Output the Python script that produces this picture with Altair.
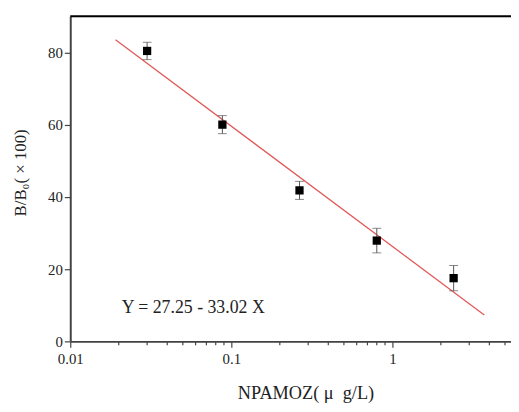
import altair as alt
import pandas as pd

# data
conc = [0.03, 0.088, 0.265, 0.80, 2.40]
bb0 = [80.4, 60.0, 41.8, 27.9, 17.5]
err = [2.4, 2.5, 2.5, 3.4, 3.5]

fit_x = [0.0191, 3.72]
fit_y = [83.5, 7.3]

minor_ticks = [0.02, 0.03, 0.04, 0.05, 0.06, 0.07, 0.08, 0.09,
               0.2, 0.3, 0.4, 0.5, 0.6, 0.7, 0.8, 0.9,
               2, 3, 4, 5]
major_ticks = [0.01, 0.1, 1]
y_ticks = [0, 20, 40, 60, 80]
equation = ["Y = 27.25 - 33.02 X"]

W, H = 446, 329
FONT = "Liberation Serif"
TXT = "#222222"
AX = "#444444"

pts = pd.DataFrame({"x": conc, "y": bb0,
                    "lo": [v - e for v, e in zip(bb0, err)],
                    "hi": [v + e for v, e in zip(bb0, err)]})
fit = pd.DataFrame({"x": fit_x, "y": fit_y})
minors = pd.DataFrame({"x": minor_ticks})
single = pd.DataFrame({"t": equation})

xscale = alt.Scale(type="log", domain=[0.01, 5.45], nice=False)
yscale = alt.Scale(domain=[0, 90], nice=False)

xaxis = alt.Axis(values=major_ticks, format="~g", title="NPAMOZ( μ\u00a0 g/L)",
                 grid=False, tickSize=6, tickColor=AX, tickWidth=1.2,
                 domainColor=AX, domainWidth=2, labelFont=FONT, labelFontSize=15,
                 labelColor=TXT, labelPadding=4, titleFont=FONT, titleFontSize=18.5,
                 titleFontWeight="normal", titleColor=TXT, titleX=238, titleY=52,
                 titleBaseline="middle", titleAlign="center", labelFlush=False)
yaxis = alt.Axis(values=y_ticks, title="B/B₀( × 100)", grid=False, tickSize=6,
                 tickColor=AX, tickWidth=1.2, domainColor=AX, domainWidth=2,
                 labelFont=FONT, labelFontSize=15, labelColor=TXT, labelPadding=2,
                 titleFont=FONT, titleFontSize=17, titleFontWeight="normal",
                 titleColor=TXT, titleX=-50, titleY=158, titleAngle=-90,
                 titleBaseline="middle", titleAlign="center")

line = alt.Chart(fit).mark_line(color="#e05a5a", strokeWidth=1.3).encode(
    x=alt.X("x:Q", scale=xscale, axis=xaxis),
    y=alt.Y("y:Q", scale=yscale, axis=yaxis),
)

bars = alt.Chart(pts).mark_rule(color="#555555", strokeWidth=1).encode(
    x=alt.X("x:Q", scale=xscale),
    y=alt.Y("lo:Q", scale=yscale),
    y2="hi:Q",
)
cap_lo = alt.Chart(pts).mark_tick(color="#555555", orient="horizontal",
                                  size=9, thickness=1).encode(
    x=alt.X("x:Q", scale=xscale), y=alt.Y("lo:Q", scale=yscale))
cap_hi = alt.Chart(pts).mark_tick(color="#555555", orient="horizontal",
                                  size=9, thickness=1).encode(
    x=alt.X("x:Q", scale=xscale), y=alt.Y("hi:Q", scale=yscale))

points = alt.Chart(pts).mark_square(color="black", size=70, opacity=1).encode(
    x=alt.X("x:Q", scale=xscale), y=alt.Y("y:Q", scale=yscale))

minor = alt.Chart(minors).mark_rule(color=AX, strokeWidth=1.2).encode(
    x=alt.X("x:Q", scale=xscale),
    y=alt.value(H), y2=alt.value(H + 4))

top = alt.Chart(single).mark_rule(color="black", strokeWidth=2).encode(
    x=alt.value(0), x2=alt.value(W), y=alt.value(0))

eq = alt.Chart(single).mark_text(font=FONT, fontSize=18, color=TXT,
                                 align="left", baseline="middle").encode(
    text="t:N", x=alt.value(52), y=alt.value(295))

chart = alt.layer(line, bars, cap_lo, cap_hi, points, minor, top, eq).properties(
    width=W, height=H,
    autosize=alt.AutoSizeParams(type="none"),
    padding={"left": 63, "top": 6, "right": 0, "bottom": 60},
).configure_view(stroke=None).configure(background="white")

chart.save("out.html", embed_options={"renderer": "svg", "actions": False})
